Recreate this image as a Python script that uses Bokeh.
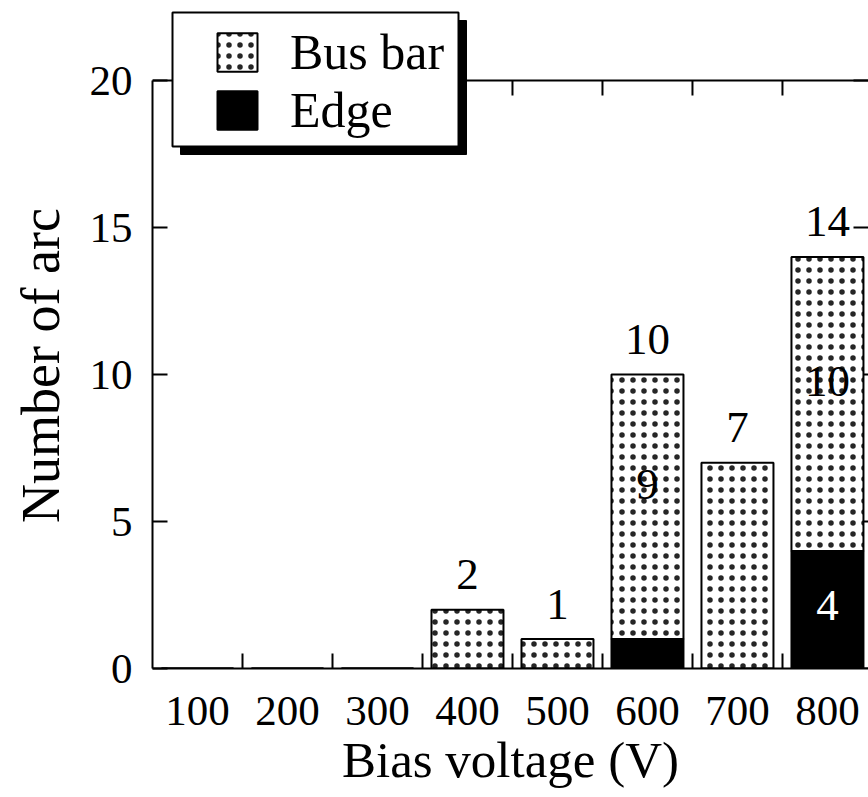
import math
from bokeh.plotting import figure
from bokeh.models import (Range1d, FixedTicker, Legend, LegendItem,
                          BoxAnnotation, ColumnDataSource, Span)
from bokeh.core.properties import value
from bokeh.embed import file_html
from bokeh.resources import INLINE

# ---------------- data ----------------
voltages = [100, 200, 300, 400, 500, 600, 700, 800]
bus_bar = [0, 0, 0, 2, 1, 9, 7, 10]
edge = [0, 0, 0, 0, 0, 1, 0, 4]
y_ticks = [0, 5, 10, 15, 20]
series_names = ["Bus bar", "Edge"]
x_title = "Bias voltage (V)"
y_title = "Number of arc"

FONT = "Liberation Serif"
n = len(voltages)
totals = [b + e for b, e in zip(bus_bar, edge)]
step = voltages[1] - voltages[0]
boundaries = [v + step / 2 for v in voltages]

Y_MAX = 20
X_START, X_END = 50, 845.6
# frame is extended above y = 20 to leave room for the framed legend
FRAME_TOP_PAD = 72  # px between frame top and the y=20 border line
FRAME_H = 588       # px for 0..20
y_end = Y_MAX + FRAME_TOP_PAD * Y_MAX / FRAME_H

p = figure(width=868, height=797, output_backend="svg", toolbar_location=None,
           title=None, x_range=Range1d(X_START, X_END), y_range=Range1d(0, y_end),
           min_border_left=152, min_border_top=8, min_border_bottom=129,
           min_border_right=0, background_fill_color="white",
           border_fill_color="white")
p.outline_line_color = None
p.grid.visible = False

xt = FixedTicker(ticks=voltages, minor_ticks=boundaries)
yt = FixedTicker(ticks=y_ticks, minor_ticks=[])


def style_axis(ax):
    ax.axis_line_color = "black"
    ax.axis_line_width = 2
    ax.major_tick_line_color = "black"
    ax.major_tick_line_width = 2
    ax.minor_tick_line_color = "black"
    ax.minor_tick_line_width = 2
    ax.major_label_text_font = FONT
    ax.major_label_text_color = "black"
    ax.axis_label_text_font = FONT
    ax.axis_label_text_font_style = "normal"
    ax.axis_label_text_color = "black"


# bottom axis
xb = p.xaxis[0]
xb.ticker = xt
style_axis(xb)
xb.major_tick_in = 0
xb.major_tick_out = 0
xb.minor_tick_in = 15
xb.minor_tick_out = 0
xb.major_label_text_font_size = "43px"
xb.major_label_standoff = 28
xb.axis_label = x_title
xb.axis_label_text_font_size = "51px"
xb.axis_label_standoff = 4

# left axis
yl = p.yaxis[0]
yl.ticker = yt
style_axis(yl)
yl.bounds = (0, Y_MAX)
yl.major_tick_in = 15
yl.major_tick_out = 0
yl.minor_tick_in = 0
yl.minor_tick_out = 0
yl.major_label_text_font_size = "43px"
yl.major_label_standoff = 20
# non-breaking spaces at the end keep the title centred on the 0..20 part
yl.axis_label = y_title + "\u00a0" * 4
yl.axis_label_text_font_size = "54px"
yl.axis_label_standoff = 16

# top border line at y = 20 with inward ticks at category boundaries
p.add_layout(Span(location=Y_MAX, dimension="width", line_color="black",
                  line_width=2))
p.ray(x=boundaries, y=[Y_MAX] * n, length=15, length_units="screen",
      angle=-math.pi / 2, line_color="black", line_width=2)
# right border ticks (frame edge lies just outside the picture)
p.ray(x=[X_END] * len(y_ticks), y=y_ticks, length=15, length_units="screen",
      angle=math.pi, line_color="black", line_width=2)

# ---------------- bars ----------------
src = ColumnDataSource(dict(x=voltages, bus=bus_bar, edge=edge, total=totals))
edge_r = p.vbar(x="x", bottom=0, top="edge", width=step * 0.8, source=src,
                fill_color="black", line_color="black", line_width=2)
bus_r = p.vbar(x="x", bottom="edge", top="total", width=step * 0.8, source=src,
               fill_color="white", line_color="black", line_width=2,
               hatch_pattern="dot", hatch_color="black", hatch_scale=11,
               hatch_weight=0.5, hatch_alpha=0.85)

# ---------------- value labels ----------------
ti = [i for i in range(n) if totals[i] > 0]
top_src = ColumnDataSource(dict(x=[voltages[i] for i in ti],
                                y=[totals[i] for i in ti],
                                t=[str(totals[i]) for i in ti]))
p.text(x="x", y="y", text="t", source=top_src, text_font=value(FONT),
       text_font_size="45px", text_align="center", text_baseline="middle",
       y_offset=-35, text_color="black")

bi = [i for i in range(n) if edge[i] > 0 and bus_bar[i] > 0]
bus_src = ColumnDataSource(dict(x=[voltages[i] for i in bi],
                                y=[edge[i] + bus_bar[i] / 2 for i in bi],
                                t=[str(bus_bar[i]) for i in bi]))
p.text(x="x", y="y", text="t", source=bus_src, text_font=value(FONT),
       text_font_size="45px", text_align="center", text_baseline="middle",
       y_offset=-22, text_color="black")

ei = [i for i in range(n) if edge[i] > 1]
edge_src = ColumnDataSource(dict(x=[voltages[i] for i in ei],
                                 y=[edge[i] / 2 for i in ei],
                                 t=[str(edge[i]) for i in ei]))
p.text(x="x", y="y", text="t", source=edge_src, text_font=value(FONT),
       text_font_size="45px", text_align="center", text_baseline="middle",
       y_offset=-4, text_color="white")


# ---------------- legend with drop shadow ----------------
def screen_box(l, r, t, b, **kw):
    return BoxAnnotation(left=l, right=r, top=t, bottom=b,
                         left_units="screen", right_units="screen",
                         top_units="screen", bottom_units="screen", **kw)


shadow = screen_box(28, 314, 648, 514, fill_color="black", fill_alpha=1,
                    line_color="black", line_alpha=1, line_width=1)
box = screen_box(20, 306, 656, 522, fill_color="white", fill_alpha=1,
                 line_color="black", line_alpha=1, line_width=2)
p.add_layout(shadow)
p.add_layout(box)

legend = Legend(items=[LegendItem(label=series_names[0], renderers=[bus_r]),
                       LegendItem(label=series_names[1], renderers=[edge_r])],
                location=(60, 529), orientation="vertical",
                glyph_width=50, glyph_height=48, label_standoff=28,
                spacing=0, padding=0, margin=0,
                label_text_font=FONT, label_text_font_size="50px",
                label_text_color="black",
                background_fill_alpha=0, border_line_color=None)
p.add_layout(legend)

open("out.html", "w").write(file_html(p, INLINE))
